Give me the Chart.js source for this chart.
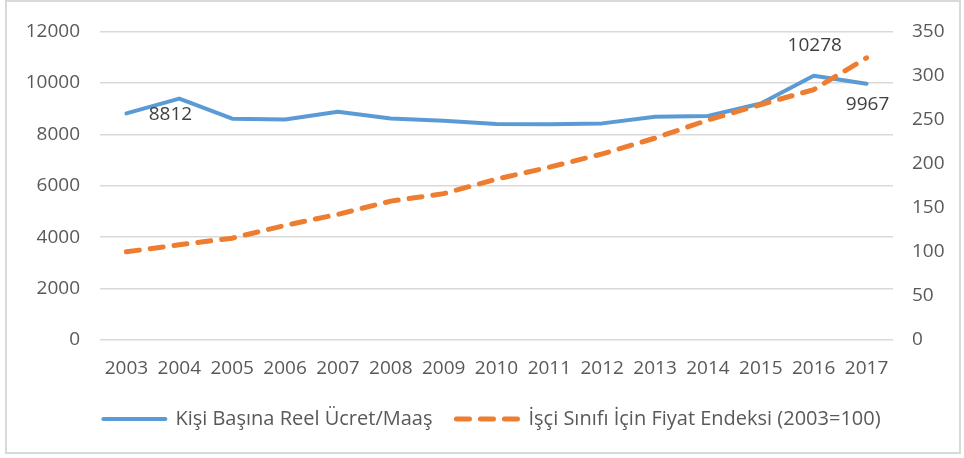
<!DOCTYPE html>
<html>
<head>
<meta charset="utf-8">
<script src="https://cdn.jsdelivr.net/npm/chart.js@4/dist/chart.umd.min.js"></script>
<style>
  html, body { margin: 0; padding: 0; background: #ffffff; }
  #wrap { width: 964px; height: 458px; position: relative; }
</style>
</head>
<body>
<div id="wrap"><canvas id="c" width="964" height="458"></canvas></div>
<script>
const years = ['2003','2004','2005','2006','2007','2008','2009','2010','2011','2012','2013','2014','2015','2016','2017'];
const realWage = [8812, 9388, 8604, 8577, 8875, 8616, 8527, 8400, 8385, 8423, 8681, 8708, 9195, 10278, 9967];
const priceIndex = [100, 108, 115.5, 130, 142.5, 157.5, 166, 182.5, 196, 211, 229, 249.5, 267, 284, 320];
const seriesNames = ['Kişi Başına Reel Ücret/Maaş', 'İşçi Sınıfı İçin Fiyat Endeksi (2003=100)'];
const labelledPoints = [0, 13, 14];

const FONT = '"Open Sans", "Liberation Sans", sans-serif';
const TXT = '#595959';

const labelOffsets = { 0: [44, 1], 13: [1, -30], 14: [1, 21] };

const frame = {
  id: 'frame',
  beforeDraw(chart) {
    const ctx = chart.ctx;
    ctx.save();
    ctx.fillStyle = '#ffffff';
    ctx.fillRect(0, 0, chart.width, chart.height);
    ctx.strokeStyle = '#d9d9d9';
    ctx.lineWidth = 2;
    ctx.strokeRect(6, 1, 954, 452);
    ctx.restore();
  }
};

const pointLabels = {
  id: 'pointLabels',
  afterDatasetsDraw(chart) {
    const ctx = chart.ctx;
    const meta = chart.getDatasetMeta(0);
    ctx.save();
    ctx.font = '19px ' + FONT;
    ctx.fillStyle = '#404040';
    ctx.textAlign = 'center';
    ctx.textBaseline = 'middle';
    labelledPoints.forEach(i => {
      const el = meta.data[i];
      const off = labelOffsets[i] || [0, -15];
      ctx.fillText(String(realWage[i]), el.x + off[0], el.y + off[1]);
    });
    ctx.restore();
  }
};

new Chart(document.getElementById('c'), {
  type: 'line',
  data: {
    labels: years,
    datasets: [
      {
        label: seriesNames[0],
        data: realWage,
        yAxisID: 'y',
        borderColor: '#5b9bd5',
        backgroundColor: '#5b9bd5',
        borderWidth: 4,
        pointRadius: 0,
        tension: 0,
        borderCapStyle: 'round',
        borderJoinStyle: 'round',
        order: 2
      },
      {
        label: seriesNames[1],
        data: priceIndex,
        yAxisID: 'y1',
        borderColor: '#ed7d31',
        backgroundColor: '#ed7d31',
        borderWidth: 5,
        borderDash: [13, 11],
        borderCapStyle: 'round',
        pointRadius: 0,
        tension: 0,
        order: 1
      }
    ]
  },
  options: {
    responsive: false,
    animation: false,
    devicePixelRatio: 1,
    layout: { padding: { left: 20, right: 0, top: 29, bottom: 19 } },
    scales: {
      x: {
        offset: true,
        grid: { display: false, drawTicks: false },
        border: { display: false },
        ticks: { color: TXT, font: { family: FONT, size: 19 }, padding: 17, maxRotation: 0, autoSkip: false },
        afterFit(s) { s.height = 45; }
      },
      y: {
        position: 'left',
        min: 0, max: 12000,
        ticks: { stepSize: 2000, color: TXT, font: { family: FONT, size: 19 }, padding: 20, callback: v => String(v) },
        grid: { color: '#d9d9d9', lineWidth: 1.5, drawTicks: false },
        border: { display: false },
        afterFit(s) { s.width = 80; }
      },
      y1: {
        position: 'right',
        min: 0, max: 350,
        ticks: { stepSize: 50, color: TXT, font: { family: FONT, size: 19 }, padding: 19, callback: v => String(v) },
        grid: { display: false, drawTicks: false },
        border: { display: false },
        afterFit(s) { s.width = 71; }
      }
    },
    plugins: {
      legend: {
        position: 'bottom',
        labels: {
          usePointStyle: true,
          pointStyle: 'line',
          pointStyleWidth: 62,
          boxHeight: 20,
          color: TXT,
          font: { family: FONT, size: 20 },
          padding: 24,
          generateLabels(chart) {
            return chart.data.datasets.map((ds, i) => ({
              text: ds.label,
              strokeStyle: ds.borderColor,
              fillStyle: ds.borderColor,
              lineWidth: ds.borderWidth,
              lineDash: ds.borderDash || [],
              lineCap: ds.borderCapStyle,
              pointStyle: 'line',
              fontColor: TXT,
              hidden: false,
              datasetIndex: i
            }));
          }
        }
      },
      tooltip: { enabled: false }
    }
  },
  plugins: [frame, pointLabels]
});
</script>
</body>
</html>
